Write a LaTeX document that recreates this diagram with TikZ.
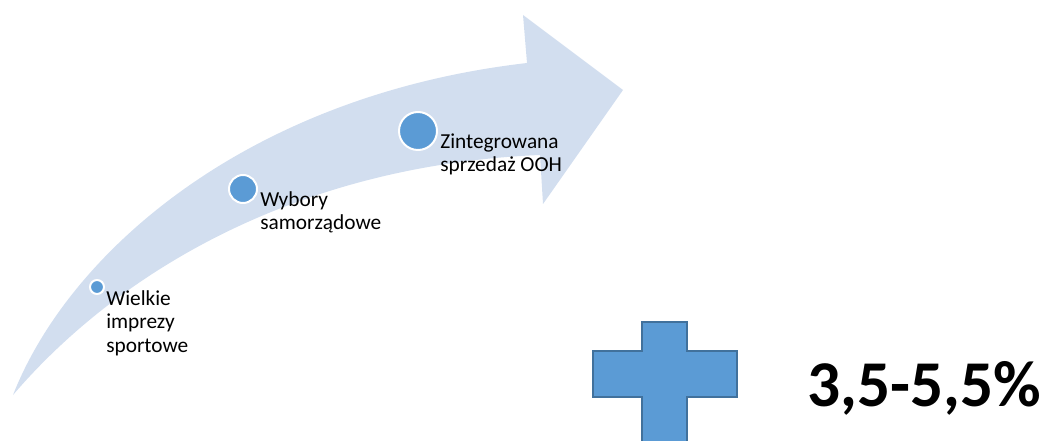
\documentclass[tikz,border=0pt]{standalone}
\usepackage{fontspec}
\setmainfont{Carlito}
\usetikzlibrary{positioning}
\definecolor{arrowfill}{RGB}{210,222,239}
\definecolor{dotblue}{RGB}{91,155,213}
\definecolor{plusedge}{RGB}{65,113,156}

\begin{document}
\begin{tikzpicture}[x=0.75pt,y=-0.75pt,
    dot/.style={circle,fill=dotblue,draw=white,line width=1.5pt,inner sep=0pt},
    lbl/.style={align=left,anchor=base west,inner sep=0pt,font=\fontsize{16}{17.6}\selectfont}]
  \useasboundingbox (0,0) rectangle (1044,441);
  % curved arrow
  \fill[arrowfill] (13,395) .. controls (70,250) and (250,95) .. (527,63)
    -- (523,15) -- (623,90) -- (543,204) -- (540,155)
    .. controls (300,165) and (120,270) .. (13,395) -- cycle;
  % steps
  \node[dot,minimum size=10.5pt] (d1) at (97,287) {};
  \node[dot,minimum size=21pt] (d2) at (243,189) {};
  \node[dot,minimum size=28.5pt] (d3) at (418,131) {};
  \node[lbl] (l1) at (106,352) {Wielkie\\imprezy\\sportowe};
  \node[lbl] (l2) at (260,230) {Wybory\\samorządowe};
  \node[lbl] (l3) at (440,172) {Zintegrowana\\sprzedaż OOH};
  % plus sign
  \begin{scope}
    \clip (0,0) rectangle (1044,441);
    \filldraw[fill=dotblue,draw=plusedge,line width=1.1pt]
      (642,322) -- (687,322) -- (687,351) -- (737,351) -- (737,397) -- (687,397)
      -- (687,450) -- (642,450) -- (642,397) -- (593,397) -- (593,351) -- (642,351) -- cycle;
  \end{scope}
  \node[anchor=base west,inner sep=0pt,font=\bfseries\fontsize{49}{58}\selectfont] (pct) at (807,406) {3,5-5,5\%};
\end{tikzpicture}
\end{document}
